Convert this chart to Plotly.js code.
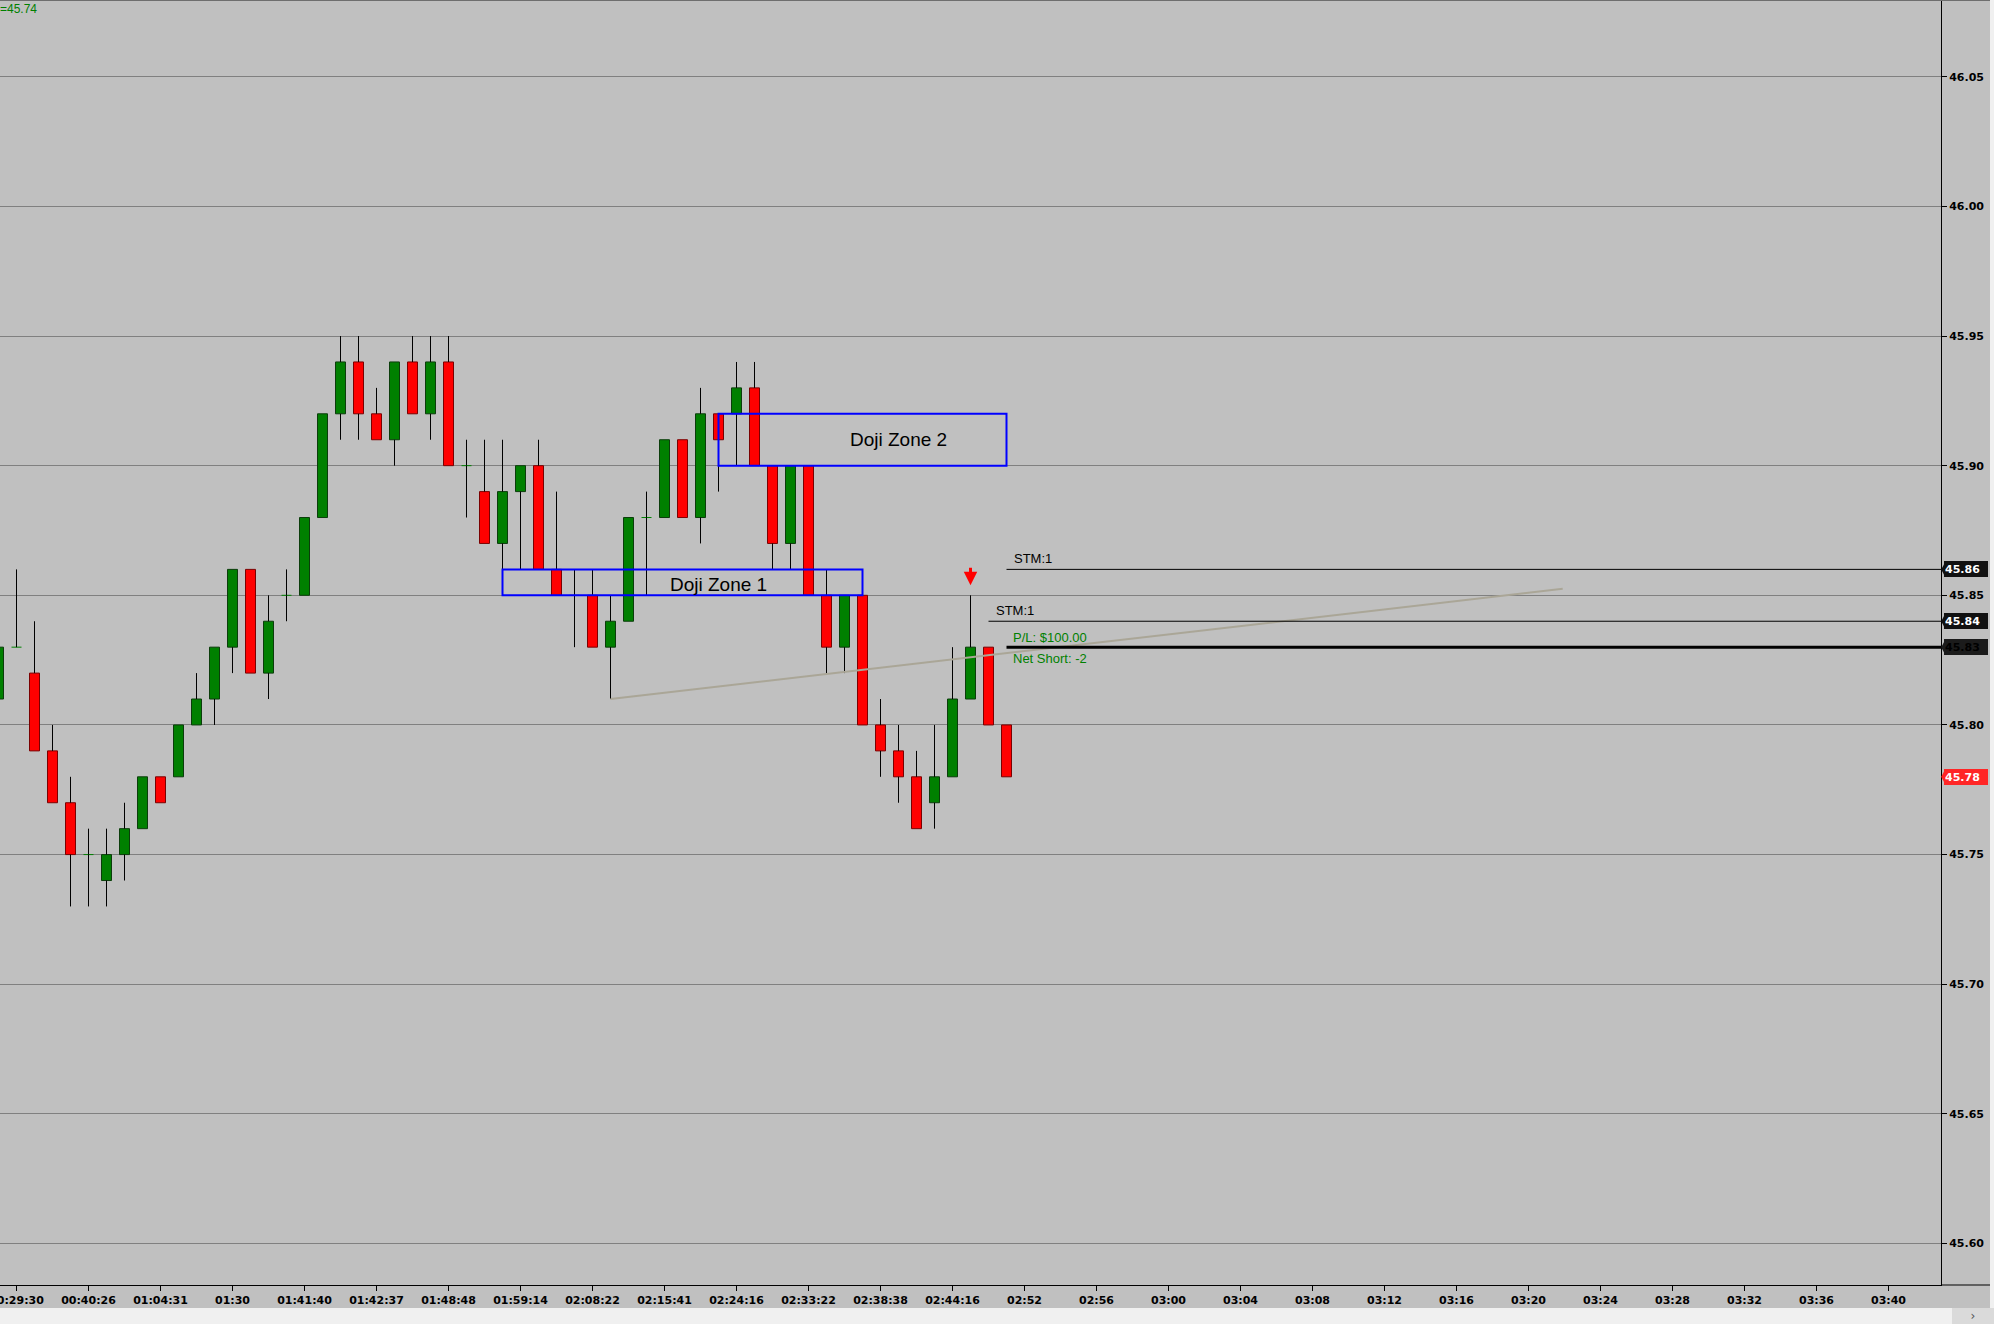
<!DOCTYPE html>
<html>
<head>
<meta charset="utf-8">
<script src="https://cdn.plot.ly/plotly-3.0.1.min.js"></script>
<style>
  html, body { margin: 0; padding: 0; background: #f0f0f0; overflow: hidden; }
  #chart { position: absolute; left: 0; top: 0; width: 1990px; height: 1308px; }
  #scrollbtn { position: absolute; left: 1952px; top: 1308px; width: 42px; height: 16px;
               background: #dadada; color: #555; font: 12px 'DejaVu Sans', sans-serif;
               text-align: center; line-height: 16px; }
</style>
</head>
<body>
<div id="chart"></div>
<div id="scrollbtn">›</div>
<script>
// ---- bar slots on the time axis (one per candle) ----
const barIndex = [0,1,2,3,4,5,6,7,8,9,10,11,12,13,14,15,16,17,18,19,20,21,22,23,24,25,26,27,28,29,
                  30,31,32,33,34,35,36,37,38,39,40,41,42,43,44,45,46,47,48,49,50,51,52,53,54,55,56];

// ---- OHLC prices ----
const openP  = [45.81,45.83,45.82,45.79,45.77,45.75,45.74,45.75,45.76,45.78,
                45.78,45.80,45.81,45.83,45.86,45.82,45.85,45.85,45.88,45.92,
                45.94,45.92,45.91,45.94,45.92,45.94,45.90,45.89,45.87,45.89,
                45.90,45.86,45.85,45.85,45.83,45.84,45.88,45.88,45.91,45.88,
                45.92,45.92,45.93,45.90,45.87,45.90,45.85,45.83,45.85,45.80,
                45.79,45.78,45.77,45.78,45.81,45.83,45.80];
const highP  = [45.83,45.86,45.84,45.80,45.78,45.76,45.76,45.77,45.78,45.78,
                45.80,45.82,45.83,45.86,45.86,45.85,45.86,45.88,45.92,45.95,
                45.95,45.93,45.94,45.95,45.95,45.95,45.91,45.91,45.91,45.90,
                45.91,45.89,45.86,45.86,45.85,45.88,45.89,45.91,45.91,45.93,
                45.92,45.94,45.94,45.90,45.90,45.90,45.86,45.85,45.85,45.81,
                45.80,45.79,45.80,45.83,45.85,45.83,45.80];
const lowP   = [45.81,45.83,45.79,45.77,45.73,45.73,45.73,45.74,45.76,45.77,
                45.78,45.80,45.80,45.82,45.82,45.81,45.84,45.85,45.88,45.91,
                45.91,45.91,45.90,45.92,45.91,45.90,45.88,45.87,45.86,45.86,
                45.86,45.85,45.83,45.83,45.81,45.84,45.85,45.88,45.88,45.87,
                45.89,45.90,45.90,45.86,45.86,45.85,45.82,45.82,45.80,45.78,
                45.77,45.76,45.76,45.78,45.81,45.80,45.78];
const closeP = [45.83,45.83,45.79,45.77,45.75,45.75,45.75,45.76,45.78,45.77,
                45.80,45.81,45.83,45.86,45.82,45.84,45.85,45.88,45.92,45.94,
                45.92,45.91,45.94,45.92,45.94,45.90,45.90,45.87,45.89,45.90,
                45.86,45.85,45.85,45.83,45.84,45.88,45.88,45.91,45.88,45.92,
                45.91,45.93,45.90,45.87,45.90,45.85,45.83,45.85,45.80,45.79,
                45.78,45.76,45.78,45.81,45.83,45.80,45.78];

// ---- time axis labels (every 4th slot) ----
const timeTickIdx = [1,5,9,13,17,21,25,29,33,37,41,45,49,53,57,61,65,69,73,77,81,85,89,93,97,101,105];
const timeTickText = ["00:29:30","00:40:26","01:04:31","01:30","01:41:40","01:42:37","01:48:48",
                      "01:59:14","02:08:22","02:15:41","02:24:16","02:33:22","02:38:38","02:44:16",
                      "02:52","02:56","03:00","03:04","03:08","03:12","03:16","03:20","03:24",
                      "03:28","03:32","03:36","03:40"];

// ---- price axis labels ----
const priceTicks = [45.60,45.65,45.70,45.75,45.80,45.85,45.90,45.95,46.00,46.05];

// ---- order / marker levels on the price scale ----
const levelPrices = [45.86, 45.84, 45.83];
const levelStart  = [56, 55, 56];
const levelLabels = ["STM:1", "STM:1", ""];
const levelWidths = [1, 1, 3];

// ---- right-edge price tags ----
const tagPrices = [45.86, 45.84, 45.83, 45.78];
const tagFill   = ['#111111', '#111111', '#1b1b1b', '#ff2626'];
const tagInk    = ['#ffffff', '#ffffff', '#000000', '#ffffff'];

// ---- zones ----
const zoneNames = ["Doji Zone 1", "Doji Zone 2"];
const zoneX0 = [28, 40];
const zoneX1 = [48, 56];
const zoneLow  = [45.85, 45.90];
const zoneHigh = [45.86, 45.92];
const zoneLabelX = [40, 50];
const zoneLabelY = [45.854, 45.910];

// ---- trend line ----
const trendX = [34, 86.9];
const trendY = [45.81, 45.8525];

// ---- position summary ----
const plText = "P/L: $100.00";
const posText = "Net Short: -2";
const signalBar = 54;
const cornerText = "=45.74";

// ----------------------------------------------------------------
const X_RANGE = [1.5 / 18, (1941 + 1.5) / 18];
const Y_RANGE = [45.5840, 46.0796];
const BODY_W = 10 / 18;

const UP = '#008000', DOWN = '#ff0000';
const UP_EDGE = '#0b3d0b', DOWN_EDGE = '#7a0000';

// candle bodies
const bodyX = [], bodyBase = [], bodyH = [], bodyFill = [], bodyEdge = [];
// wicks outside the body and doji ticks
const wickX = [], wickY = [];
const dojiX = [], dojiY = [];

barIndex.forEach((i, k) => {
  const o = openP[k], h = highP[k], l = lowP[k], c = closeP[k];
  const top = Math.max(o, c), bot = Math.min(o, c);
  if (Math.abs(c - o) < 1e-9) {
    dojiX.push(i - BODY_W / 2, i + BODY_W / 2, null);
    dojiY.push(o, o, null);
  } else {
    bodyX.push(i);
    bodyBase.push(bot);
    bodyH.push(top - bot);
    bodyFill.push(c > o ? UP : DOWN);
    bodyEdge.push(c > o ? UP_EDGE : DOWN_EDGE);
  }
  if (h > top + 1e-9) { wickX.push(i, i, null); wickY.push(top, h, null); }
  if (l < bot - 1e-9) { wickX.push(i, i, null); wickY.push(l, bot, null); }
});

const traces = [
  { type: 'scatter', mode: 'lines', x: dojiX, y: dojiY,
    line: { color: UP, width: 1 }, hoverinfo: 'skip', connectgaps: false },
  { type: 'scatter', mode: 'lines', x: wickX, y: wickY,
    line: { color: '#000000', width: 1 }, hoverinfo: 'skip', connectgaps: false },
  { type: 'bar', x: bodyX, y: bodyH, base: bodyBase, width: BODY_W,
    marker: { color: bodyFill, line: { color: bodyEdge, width: 1 } }, hoverinfo: 'skip' },
  { type: 'scatter', mode: 'lines', x: trendX, y: trendY,
    line: { color: '#aaa697', width: 2 }, hoverinfo: 'skip' }
];

const shapes = [];
const annotations = [];

// zones
zoneNames.forEach((name, k) => {
  shapes.push({ type: 'rect', xref: 'x', yref: 'y', x0: zoneX0[k], x1: zoneX1[k],
                y0: zoneLow[k], y1: zoneHigh[k], line: { color: '#0000ff', width: 2 },
                fillcolor: 'rgba(0,0,0,0)', layer: 'above' });
  annotations.push({ xref: 'x', yref: 'y', x: zoneLabelX[k], y: zoneLabelY[k], text: name,
                     showarrow: false, xanchor: 'center', yanchor: 'middle',
                     font: { family: 'Liberation Sans, Arial, sans-serif', size: 19, color: '#000' } });
});

// order levels
levelPrices.forEach((p, k) => {
  shapes.push({ type: 'line', xref: 'x', yref: 'y', x0: levelStart[k], x1: X_RANGE[1],
                y0: p, y1: p, line: { color: '#000000', width: levelWidths[k] }, layer: 'above' });
  if (levelLabels[k]) {
    annotations.push({ xref: 'x', yref: 'y', x: levelStart[k], y: p, xshift: 5, yshift: 1,
                       text: levelLabels[k], showarrow: false, xanchor: 'left', yanchor: 'bottom',
                       font: { family: 'Liberation Sans, Arial, sans-serif', size: 13, color: '#000' } });
  }
});

// position summary around the entry level
annotations.push({ xref: 'x', yref: 'y', x: levelStart[2], y: levelPrices[2], xshift: 4, yshift: 0,
                   text: plText, showarrow: false, xanchor: 'left', yanchor: 'bottom',
                   font: { family: 'Liberation Sans, Arial, sans-serif', size: 13, color: '#008000' } });
annotations.push({ xref: 'x', yref: 'y', x: levelStart[2], y: levelPrices[2], xshift: 4, yshift: -2,
                   text: posText, showarrow: false, xanchor: 'left', yanchor: 'top',
                   font: { family: 'Liberation Sans, Arial, sans-serif', size: 13, color: '#008000' } });

// signal arrow above the bar's high
annotations.push({ xref: 'x', yref: 'y', x: signalBar, y: highP[signalBar], yshift: 10,
                   text: '', showarrow: true, ax: 0, ay: -19, standoff: 0,
                   arrowhead: 2, arrowsize: 0.9, arrowwidth: 3, arrowcolor: '#ff0000' });

// right-edge price tags
const PX = 1 / 1941;           // one pixel in paper units (x)
const PY = (Y_RANGE[1] - Y_RANGE[0]) / 1285;  // one pixel in price units
tagPrices.forEach((p, k) => {
  annotations.push({ xref: 'paper', yref: 'y', x: 1 + 3 * PX, y: p, xanchor: 'left', yanchor: 'middle',
                     text: p.toFixed(2), showarrow: false, width: 42, height: 14, align: 'left',
                     bgcolor: tagFill[k], borderpad: 1, borderwidth: 0,
                     font: { family: 'DejaVu Sans, sans-serif', size: 11, color: tagInk[k], weight: 'bold' } });
  shapes.push({ type: 'path', xref: 'paper', yref: 'y', layer: 'above',
                path: `M ${1 + 0.2 * PX},${p} L ${1 + 4 * PX},${p + 7 * PY} L ${1 + 4 * PX},${p - 7 * PY} Z`,
                fillcolor: tagFill[k], line: { width: 0 } });
});

// top frame line and the time-axis rule running under the price scale
shapes.push({ type: 'line', xref: 'paper', yref: 'paper', x0: 0, x1: 1990 / 1941, y0: 1, y1: 1,
              line: { color: '#6e6e6e', width: 2 } });
shapes.push({ type: 'line', xref: 'paper', yref: 'paper', x0: 1, x1: 1990 / 1941, y0: 0, y1: 0,
              line: { color: '#000000', width: 1 } });

annotations.push({ xref: 'paper', yref: 'paper', x: 0, y: 1, xshift: -2, text: cornerText,
                   showarrow: false, xanchor: 'left', yanchor: 'top',
                   font: { family: 'Liberation Sans, Arial, sans-serif', size: 12, color: '#008000' } });

const tickFont = { family: 'DejaVu Sans, sans-serif', size: 11, color: '#000000', weight: 'bold' };

const layout = {
  width: 1990, height: 1308,
  margin: { l: 0, r: 49, t: 0, b: 23, pad: 0 },
  paper_bgcolor: '#c0c0c0', plot_bgcolor: '#c0c0c0',
  showlegend: false, barmode: 'overlay',
  xaxis: {
    range: X_RANGE, tickmode: 'array', tickvals: timeTickIdx, ticktext: timeTickText,
    showgrid: false, zeroline: false, showline: true, linecolor: '#000000', linewidth: 1,
    ticks: 'outside', ticklen: 5, tickcolor: '#000000', tickwidth: 1,
    tickfont: tickFont, ticklabeloverflow: 'allow', automargin: false, fixedrange: true
  },
  yaxis: {
    side: 'right', range: Y_RANGE, tickmode: 'array', tickvals: priceTicks,
    ticktext: priceTicks.map(v => v.toFixed(2)),
    showgrid: true, gridcolor: '#808080', gridwidth: 1, zeroline: false,
    showline: true, linecolor: '#000000', linewidth: 1,
    ticks: 'outside', ticklen: 5, tickcolor: '#000000', tickwidth: 1,
    tickfont: tickFont, automargin: false, fixedrange: true
  },
  shapes: shapes,
  annotations: annotations
};

Plotly.newPlot('chart', traces, layout, { staticPlot: true, displayModeBar: false });
</script>
</body>
</html>
